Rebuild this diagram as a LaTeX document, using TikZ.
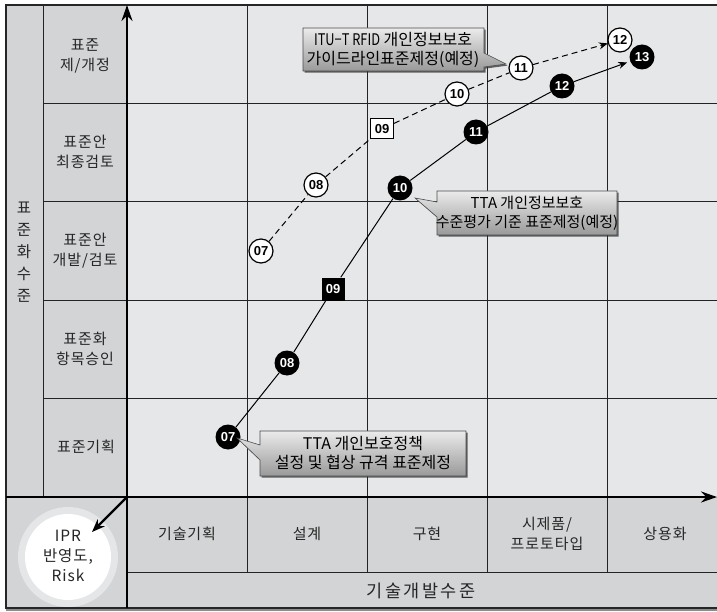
\documentclass[tikz,border=0pt]{standalone}
\usepackage{fontspec}
\setmainfont{Noto Sans CJK KR}
\newfontfamily\numfont{Liberation Sans}
\newfontfamily\krsp[LetterSpace=6]{Noto Sans CJK KR}
\newfontfamily\krwide[LetterSpace=14]{Noto Sans CJK KR}
\newfontfamily\krcond[FakeStretch=0.8]{Noto Sans CJK KR}
\usetikzlibrary{arrows.meta,shadows}
\definecolor{cellbg}{RGB}{230,231,233}
\definecolor{labbg}{RGB}{211,212,214}
\definecolor{ringc}{RGB}{229,230,232}
\definecolor{linec}{RGB}{35,35,35}
\tikzset{
  gridline/.style={draw=linec, line width=0.9},
  axisline/.style={draw=black, line width=2.4},
  lab/.style={font=\krsp\fontsize{15}{20}\selectfont, align=center, text=black!85, inner sep=0},
  mnum/.style={font=\numfont\bfseries\fontsize{13}{13}\selectfont, inner sep=0},
  bm/.style={mnum, circle, fill=black, text=white, minimum size=25},
  wm/.style={mnum, circle, draw=black, line width=1.2, fill=white, text=black, minimum size=24},
  bsq/.style={mnum, rectangle, fill=black, text=white, minimum width=23, minimum height=23},
  wsq/.style={mnum, rectangle, draw=black, line width=1, fill=white, text=black, minimum width=23, minimum height=20},
  solidlink/.style={draw=black, line width=1},
  dashlink/.style={draw=black, line width=1, dash pattern=on 6pt off 4pt},
  calloutbox/.style={draw=black!70, line width=0.6, top color=black!8, bottom color=black!40,
     drop shadow={shadow xshift=1.6pt, shadow yshift=-1.6pt, opacity=0.75, fill=black!80}},
  callouttext/.style={font=\fontsize{16}{19}\selectfont, align=center, text=black, inner sep=0}
}
\begin{document}
\begin{tikzpicture}[x=1pt,y=-1pt]
\useasboundingbox (0,0) rectangle (717,612);
\fill[white] (0,0) rectangle (717,612);
% backgrounds
\fill[cellbg] (127,5) rectangle (717,497);
\fill[labbg] (6,5) rectangle (127,497);
\fill[labbg] (6,497) rectangle (717,608);
% grid lines
\foreach \x in {247,367,487,607} { \draw[gridline] (\x,5) -- (\x,572); }
\foreach \y in {103,201,300,398} { \draw[gridline] (43,\y) -- (717,\y); }
\draw[gridline] (43,5) -- (43,497);
\draw[gridline] (127,572) -- (717,572);
% outer frame
\draw[draw=black!85, line width=1.2] (717,5) -- (6,5) -- (6,608) -- (717,608);
\draw[draw=black!45, line width=1.2] (6,610) -- (717,610);
% IPR circle
\fill[ringc] (68,557) circle (50);
\fill[white] (68,557) circle (43);
\node[lab, font=\krsp\fontsize{15.5}{20}\selectfont] (ipr) at (68,556) {IPR\\반영도,\\Risk};
% axes
\coordinate (vb) at (127,608);
\coordinate (vt) at (127,5);
\coordinate (hl) at (6,497);
\coordinate (hr) at (717,497);
\coordinate (orig) at (127,497);
\coordinate (iprtip) at (92,532);
\draw[axisline, -{Stealth[length=16,width=11]}] (vb) -- (vt);
\draw[axisline, -{Stealth[length=16,width=11]}] (hl) -- (hr);
\draw[draw=black, line width=2.2, -{Stealth[length=13,width=10]}] (orig) -- (iprtip);
% left vertical title
\node[lab, font=\krsp\fontsize{15.5}{22}\selectfont] (ytitle) at (24,252) {표\\준\\화\\수\\준};
% row labels
\node[lab] (r1) at (85,56) {표준\\제/개정};
\node[lab] (r2) at (85,152) {표준안\\최종검토};
\node[lab] (r3) at (85,251) {표준안\\개발/검토};
\node[lab] (r4) at (85,349) {표준화\\항목승인};
\node[lab] (r5) at (86,447) {표준기획};
% column labels
\node[lab] (c1) at (187,534) {기술기획};
\node[lab] (c2) at (307,534) {설계};
\node[lab] (c3) at (427,534) {구현};
\node[lab] (c4) at (547,534) {시제품/\\프로토타입};
\node[lab] (c5) at (665,534) {상용화};
\node[lab, font=\krwide\fontsize{17.5}{20}\selectfont] (xtitle) at (421,591) {기술개발수준};
% markers (solid path)
\node[bm] (b07) at (228,437) {07};
\node[bm] (b08) at (287,363) {08};
\node[bsq] (b09) at (333,289) {09};
\node[bm] (b10) at (400,188) {10};
\node[bm] (b11) at (476,132) {11};
\node[bm] (b12) at (562,86) {12};
\node[bm] (b13) at (642,57) {13};
% markers (dashed path)
\node[wm] (w07) at (261,251) {07};
\node[wm] (w08) at (316,185) {08};
\node[wsq] (w09) at (382,129) {09};
\node[wm] (w10) at (457,94) {10};
\node[wm] (w11) at (521,68) {11};
\node[wm] (w12) at (620,40) {12};
% connectors
\draw[solidlink] (b07) -- (b08) -- (b09) -- (b10) -- (b11) -- (b12);
\draw[solidlink, -{Stealth[length=9,width=7]}, shorten >=3pt] (b12) -- (b13);
\draw[dashlink] (w07) -- (w08) -- (w09) -- (w10) -- (w11);
\draw[dashlink, -{Stealth[length=9,width=7]}] (w11) -- (w12);
% callouts
\path[calloutbox] (303,28) -- (484,28) -- (484,53) -- (506,64) -- (484,67) -- (484,71) -- (303,71) -- cycle;
\node[callouttext] (k1) at (393,49.5) {{\krcond ITU−T RFID} 개인정보보호\\가이드라인표준제정(예정)};
\path[calloutbox] (437,191) -- (617,191) -- (617,235) -- (437,235) -- (437,217) -- (415,198) -- (437,202) -- cycle;
\node[callouttext, font=\fontsize{15}{19}\selectfont] (k2) at (527,213) {TTA 개인정보보호\\수준평가 기준 표준제정(예정)};
\path[calloutbox] (260,431) -- (466,431) -- (466,476) -- (260,476) -- (260,460) -- (237,438) -- (260,445) -- cycle;
\node[callouttext] (k3) at (363,453.5) {TTA 개인보호정책\\설정 및 협상 규격 표준제정};
\end{tikzpicture}
\end{document}
